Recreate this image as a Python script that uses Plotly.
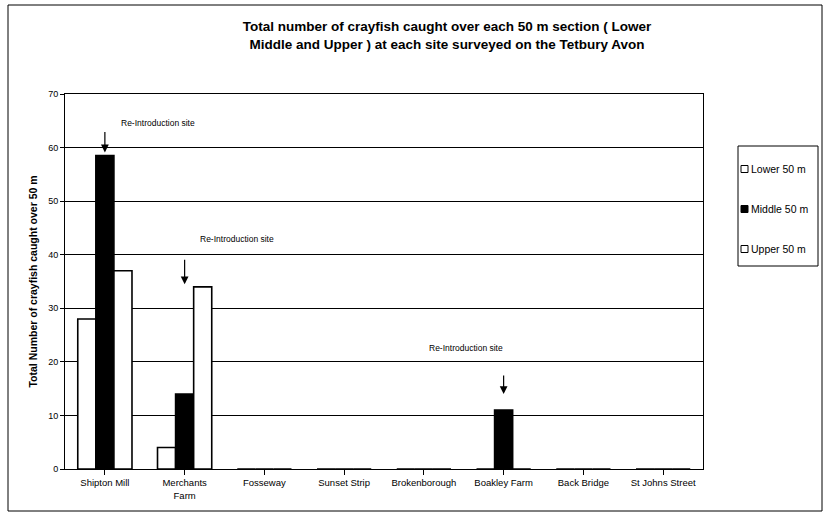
import plotly.graph_objects as go

sites = ["Shipton Mill", "Merchants<br>Farm", "Fosseway", "Sunset Strip", "Brokenborough",
         "Boakley Farm", "Back Bridge", "St Johns Street"]
lower = [28, 4, 0, 0, 0, 0, 0, 0]
middle = [58.5, 14, 0, 0, 0, 11, 0, 0]
upper = [37, 34, 0, 0, 0, 0, 0, 0]
yticks = [0, 10, 20, 30, 40, 50, 60, 70]
series_names = ["Lower 50 m", "Middle 50 m", "Upper 50 m"]
series_colors = ["white", "black", "white"]

FONT = "Liberation Sans, Arial, sans-serif"
W, H = 829, 516
L, R, T, B = 65, 703, 94, 469  # plot area pixels


def px(x):
    return (x - L) / (R - L)


def py(y):
    return (B - y) / (B - T)


fig = go.Figure()
for name, vals, col in zip(series_names, [lower, middle, upper], series_colors):
    fig.add_trace(go.Bar(x=list(range(len(sites))), y=vals, name=name,
                         marker=dict(color=col, line=dict(color="black", width=1.6)),
                         showlegend=False))

# Re-introduction annotations: (category, arrow tip value, arrow length px, text x px, text y px)
notes = [(0, 59.1, 22, 119, 116), (1, 34.5, 26, 198, 239), (5, 14, 20, 505, 355)]
for xi, ytip, alen, tx, ty in notes:
    fig.add_annotation(x=xi, y=ytip, xref="x", yref="y", ax=0, ay=-alen,
                       showarrow=True, arrowhead=2, arrowsize=1.3, arrowwidth=1.2,
                       arrowcolor="black", text="")
    fig.add_annotation(x=px(tx), y=py(ty), xref="paper", yref="paper",
                       text="Re-Introduction site", showarrow=False,
                       font=dict(size=8.5, color="black", family=FONT))

shapes = []
# outer frame
shapes.append(dict(type="rect", xref="paper", yref="paper", x0=px(8), x1=px(822),
                   y0=py(511), y1=py(5), line=dict(color="black", width=1)))
# manual legend
lg_l, lg_r, lg_t, lg_b = 738, 818, 146, 266
shapes.append(dict(type="rect", xref="paper", yref="paper", x0=px(lg_l), x1=px(lg_r),
                   y0=py(lg_b), y1=py(lg_t), line=dict(color="black", width=1),
                   fillcolor="white"))
item_y = [169, 209, 249]
for name, col, iy in zip(series_names, series_colors, item_y):
    shapes.append(dict(type="rect", xref="paper", yref="paper", x0=px(741), x1=px(748),
                       y0=py(iy + 3.5), y1=py(iy - 3.5), line=dict(color="black", width=1),
                       fillcolor=col))
    fig.add_annotation(x=px(749), y=py(iy), xref="paper", yref="paper", text=name,
                       showarrow=False, xanchor="left", yanchor="middle",
                       font=dict(size=10.5, family=FONT, color="black"))

fig.update_layout(
    width=W, height=H,
    paper_bgcolor="white", plot_bgcolor="white",
    margin=dict(l=L, r=W - R, t=T, b=H - B, autoexpand=False),
    barmode="group", bargap=0.32, bargroupgap=0,
    font=dict(family=FONT, color="black", size=9),
    title=dict(text="<b>Total number of crayfish caught over each 50 m section ( Lower<br>Middle and Upper ) at each site surveyed on the Tetbury Avon</b>",
               x=447 / W, xanchor="center", y=1 - 31 / H, yanchor="top",
               font=dict(size=13.5, family=FONT, color="black")),
    xaxis=dict(tickmode="array", tickvals=list(range(len(sites))), ticktext=sites,
               range=[-0.5, len(sites) - 0.5], showline=True, linecolor="black",
               linewidth=1, mirror=True, ticks="outside", tickson="boundaries",
               ticklen=5, tickcolor="black", showgrid=False, automargin=False,
               tickfont=dict(size=9.5)),
    yaxis=dict(range=[0, 70], tickvals=yticks, showgrid=True, gridcolor="black",
               gridwidth=1, showline=True, linecolor="black", linewidth=1, mirror=True,
               ticks="outside", ticklen=4, tickcolor="black", zeroline=False, automargin=False,
               title=dict(text="<b>Total Number of crayfish caught over 50 m</b>",
                          font=dict(size=10.5), standoff=8),
               tickfont=dict(size=9)),
    shapes=shapes,
    showlegend=False,
)
fig.write_html("out.html", config={"displayModeBar": False},
               post_script="document.body.style.margin='0';")
